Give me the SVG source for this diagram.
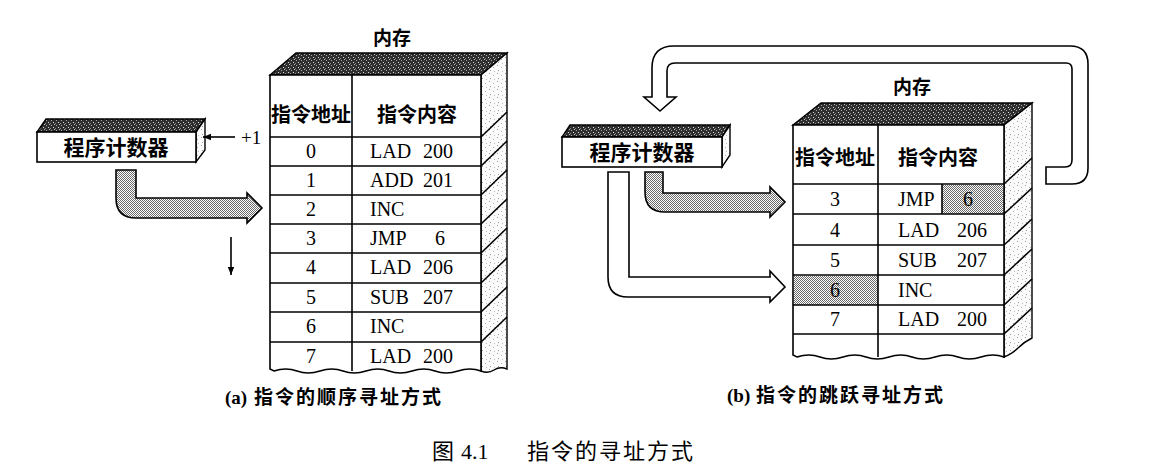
<svg xmlns="http://www.w3.org/2000/svg" width="1170" height="468" viewBox="0 0 1170 468">
<defs>
<pattern id="dark" width="5" height="5" patternUnits="userSpaceOnUse"><rect width="5" height="5" fill="#2e2e2e"/><rect x="1" y="0" width="1" height="1" fill="#aaa"/><rect x="3" y="2" width="1" height="1" fill="#ddd"/><rect x="0" y="3" width="1" height="1" fill="#888"/><rect x="4" y="4" width="1" height="1" fill="#bbb"/></pattern>
<pattern id="light" width="8" height="8" patternUnits="userSpaceOnUse"><rect width="8" height="8" fill="#fbfbfb"/><rect x="1" y="1" width="1" height="1" fill="#999"/><rect x="5" y="3" width="1" height="1" fill="#aaa"/><rect x="2" y="6" width="1" height="1" fill="#999"/><rect x="6" y="7" width="1" height="1" fill="#bbb"/></pattern>
<pattern id="check" width="2" height="2" patternUnits="userSpaceOnUse"><rect width="2" height="2" fill="#fff"/><rect x="0" y="0" width="1" height="1" fill="#6a6a6a"/><rect x="1" y="1" width="1" height="1" fill="#6a6a6a"/></pattern>
<marker id="ah" viewBox="0 0 10 10" refX="10" refY="5" markerWidth="10" markerHeight="8" markerUnits="userSpaceOnUse" orient="auto"><path d="M0,1 L10,5 L0,9 Z" fill="#000"/></marker>
</defs>
<style>
.ln{stroke:#000;stroke-width:1.6;fill:none}
.face{fill:#fff;stroke:#000;stroke-width:1.6}
.top{fill:url(#dark);stroke:#000;stroke-width:1.4}
.side{fill:url(#light);stroke:#000;stroke-width:1.4}
.shade{fill:url(#check)}
.arrS{fill:url(#check);stroke:#000;stroke-width:1.6}
.arrW{fill:#fff;stroke:#000;stroke-width:1.6}
.cjk{font-family:"Noto Sans CJK SC",sans-serif;font-weight:bold;fill:#000}
.num{font-family:"Liberation Serif","Noto Sans CJK SC",serif;font-size:20px;fill:#000}
.cap{font-family:"Liberation Serif","Noto Sans CJK SC",serif;font-weight:bold;font-size:19px;fill:#000}
.fig{font-family:"Liberation Serif","Noto Sans CJK SC",serif;font-size:22px;fill:#000}
</style>

<!-- (a) program counter -->
<g id="pc-a">
<polygon class="top" points="37,132 196,132 205,119 46,119"/>
<polygon class="side" points="196,132 205,119 205,150 196,162"/>
<rect class="face" x="37" y="132" width="159" height="30"/>
<text class="cjk" x="116" y="155" font-size="21" text-anchor="middle">程序计数器</text>
</g>

<!-- (a) memory -->
<g id="mem-a">
<text class="cjk" x="392" y="45" font-size="19" text-anchor="middle">内存</text>
<polygon class="top" points="270,75 481,75 507,53 296,53"/>
<path class="side" d="M481,75 L507,53 L507,369 Q500,366 494,370 T481,371 Z"/>
<path class="face" d="M270,75 H481 V371 Q470,367 458,371 T435,371 T412,371 T389,371 T366,371 T343,371 T320,371 T297,371 T274,371 L270,369 Z"/>
<g class="ln">
<line x1="352" y1="75" x2="352" y2="371"/>
<line x1="270" y1="137" x2="481" y2="137"/>
<line x1="270" y1="166" x2="481" y2="166"/>
<line x1="270" y1="195" x2="481" y2="195"/>
<line x1="270" y1="224" x2="481" y2="224"/>
<line x1="270" y1="253" x2="481" y2="253"/>
<line x1="270" y1="283" x2="481" y2="283"/>
<line x1="270" y1="312" x2="481" y2="312"/>
<line x1="270" y1="342" x2="481" y2="342"/>
<line x1="481" y1="137" x2="507" y2="112"/>
<line x1="481" y1="166" x2="507" y2="141"/>
<line x1="481" y1="195" x2="507" y2="170"/>
<line x1="481" y1="224" x2="507" y2="199"/>
<line x1="481" y1="253" x2="507" y2="228"/>
<line x1="481" y1="283" x2="507" y2="258"/>
<line x1="481" y1="312" x2="507" y2="287"/>
<line x1="481" y1="342" x2="507" y2="317"/>
</g>
<text class="cjk" x="311" y="122" font-size="20" text-anchor="middle">指令地址</text>
<text class="cjk" x="417" y="122" font-size="20" text-anchor="middle">指令内容</text>
<g class="num">
<text x="311" y="158" text-anchor="middle">0</text><text x="370" y="158">LAD<tspan x="423">200</tspan></text>
<text x="311" y="187" text-anchor="middle">1</text><text x="370" y="187">ADD<tspan x="423">201</tspan></text>
<text x="311" y="216" text-anchor="middle">2</text><text x="370" y="216">INC</text>
<text x="311" y="245" text-anchor="middle">3</text><text x="370" y="245">JMP<tspan x="435">6</tspan></text>
<text x="311" y="274" text-anchor="middle">4</text><text x="370" y="274">LAD<tspan x="423">206</tspan></text>
<text x="311" y="304" text-anchor="middle">5</text><text x="370" y="304">SUB<tspan x="423">207</tspan></text>
<text x="311" y="333" text-anchor="middle">6</text><text x="370" y="333">INC</text>
<text x="311" y="363" text-anchor="middle">7</text><text x="370" y="363">LAD<tspan x="423">200</tspan></text>
</g>
</g>

<!-- (b) program counter -->
<g id="pc-b">
<polygon class="top" points="562,137 722,137 730,125 570,125"/>
<polygon class="side" points="722,137 730,125 730,155 722,167"/>
<rect class="face" x="562" y="137" width="160" height="30"/>
<text class="cjk" x="642" y="160" font-size="21" text-anchor="middle">程序计数器</text>
</g>

<!-- (b) memory -->
<g id="mem-b">
<text class="cjk" x="912" y="94" font-size="19" text-anchor="middle">内存</text>
<polygon class="top" points="793,125 1004,125 1032,103 821,103"/>
<path class="side" d="M1004,125 L1032,103 L1032,338 Q1024,342 1018,348 T1004,357 Z"/>
<path class="face" d="M793,125 H1004 V357 Q993,353 981,357 T958,357 T935,357 T912,357 T889,357 T866,357 T843,357 T820,357 T797,357 L793,355 Z"/>
<rect class="shade" x="942" y="185" width="61" height="29"/>
<rect class="shade" x="794" y="276" width="84" height="29"/>
<g class="ln">
<line x1="878" y1="125" x2="878" y2="357"/>
<line x1="942" y1="184" x2="942" y2="214"/>
<line x1="793" y1="184" x2="1004" y2="184"/>
<line x1="793" y1="214" x2="1004" y2="214"/>
<line x1="793" y1="245" x2="1004" y2="245"/>
<line x1="793" y1="275" x2="1004" y2="275"/>
<line x1="793" y1="305" x2="1004" y2="305"/>
<line x1="793" y1="334" x2="1004" y2="334"/>
<line x1="1004" y1="184" x2="1032" y2="158"/>
<line x1="1004" y1="214" x2="1032" y2="188"/>
<line x1="1004" y1="245" x2="1032" y2="219"/>
<line x1="1004" y1="275" x2="1032" y2="249"/>
<line x1="1004" y1="305" x2="1032" y2="279"/>
<line x1="1004" y1="334" x2="1032" y2="308"/>
</g>
<text class="cjk" x="835" y="165" font-size="20" text-anchor="middle">指令地址</text>
<text class="cjk" x="938" y="165" font-size="20" text-anchor="middle">指令内容</text>
<g class="num">
<text x="835" y="206" text-anchor="middle">3</text><text x="898" y="206">JMP</text><text x="968" y="206" text-anchor="middle">6</text>
<text x="835" y="237" text-anchor="middle">4</text><text x="898" y="237">LAD<tspan x="957">206</tspan></text>
<text x="835" y="267" text-anchor="middle">5</text><text x="898" y="267">SUB<tspan x="957">207</tspan></text>
<text x="835" y="297" text-anchor="middle">6</text><text x="898" y="297">INC</text>
<text x="835" y="326" text-anchor="middle">7</text><text x="898" y="326">LAD<tspan x="957">200</tspan></text>
</g>
</g>

<!-- connectors -->
<g id="connectors">
<line class="ln" x1="235" y1="137" x2="203" y2="137" marker-end="url(#ah)"/>
<text x="241" y="144" font-family="Liberation Serif,serif" font-size="19" fill="#000">+1</text>
<line class="ln" x1="231" y1="237" x2="231" y2="275" marker-end="url(#ah)"/>
<path class="arrS" d="M116,170 H136 V198 H247 V193 L262,208 L247,223 V218 H136 Q116,218 116,198 Z"/>
<path class="arrS" d="M645,172 H663 V193 H770 V187 L785,202 L770,217 V212 H665 Q645,212 645,192 Z"/>
<path class="arrW" d="M608,172 H629 V277 H770 V271 L785,287 L770,302 V297 H628 Q608,297 608,277 Z"/>
<path class="arrW" d="M1046,167 H1065 Q1072,167 1072,160 V69 Q1072,63 1066,63 H675 Q667,63 667,71 V97 H676 L660,111 L644,97 H652 V68 Q652,46 674,46 H1070 Q1088,46 1088,64 V168 Q1088,184 1072,184 H1046 Z"/>
</g>

<!-- captions -->
<g id="captions">
<text class="cap" x="225" y="404">(a)<tspan x="254" letter-spacing="2">指令的顺序寻址方式</tspan></text>
<text class="cap" x="727" y="402">(b)<tspan x="756" letter-spacing="2">指令的跳跃寻址方式</tspan></text>
<text class="fig" y="459"><tspan x="432">图</tspan><tspan x="461">4.1</tspan><tspan x="527" letter-spacing="2">指令的寻址方式</tspan></text>
</g>
</svg>
